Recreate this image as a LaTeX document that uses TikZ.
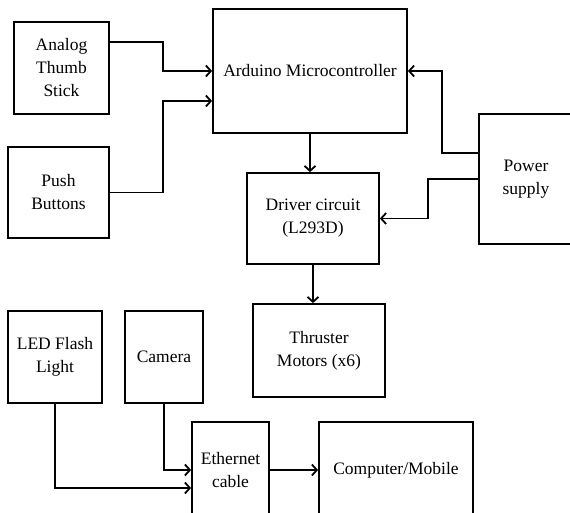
\documentclass[tikz,border=0pt]{standalone}
\usepackage{fontspec}
\setmainfont{Liberation Serif}
\usetikzlibrary{arrows.meta}

\tikzset{
	block/.style={draw, line width=1.8pt, align=center, inner sep=0pt,
		font=\fontsize{17.5}{23}\selectfont},
	wire/.style={line width=1.8pt, -{Straight Barb[length=5pt,width=11pt]}}
}

\begin{document}
\begin{tikzpicture}[x=1pt,y=-1pt]

\useasboundingbox (0,0) rectangle (570,513);

\node [block, minimum width=95pt, minimum height=92pt] (analog) at (61.5,68) {Analog\\Thumb\\Stick};
\node [block, minimum width=101pt, minimum height=91pt] (push) at (58.5,192.5) {Push\\Buttons};
\node [block, minimum width=194pt, minimum height=124pt] (arduino) at (310,71) {Arduino Microcontroller};
\node [block, minimum width=132pt, minimum height=91pt] (driver) at (313,218.5) {Driver circuit\\(L293D)};
\node [block, minimum width=94pt, minimum height=130pt] (power) at (526,179) {Power\\supply};
\node [block, minimum width=132pt, minimum height=93pt] (thruster) at (319,350.5) {Thruster\\Motors (x6)};

\node [block, minimum width=94pt, minimum height=92pt] (led) at (55,357) {LED Flash\\Light};
\node [block, minimum width=78pt, minimum height=92pt] (camera) at (164,357) {Camera};
\node [block, minimum width=77pt, minimum height=96pt] (ethernet) at (230.5,470) {Ethernet\\cable};
\node [block, minimum width=154pt, minimum height=96pt] (computer) at (396,470) {Computer/Mobile};

% inputs
\draw [wire] ([yshift=26pt]analog.east) -- ++(53pt,0) |- (arduino.west);
\draw [wire] (push.east) -- ++(53pt,0) |- ([yshift=-30pt]arduino.west);

% power lines
\draw [wire] ([yshift=26pt]power.west) -- ++(-36pt,0) |- (arduino.east);
\draw [wire] (power.west) -- ++(-50pt,0) |- (driver.east);

\draw [wire] (arduino.south) -- (arduino.south |- driver.north);
\draw [wire] (driver.south) -- (driver.south |- thruster.north);

% camera side
\draw [wire] (camera.south) |- (ethernet.west);
\draw [wire] (led.south) |- ([yshift=-18pt]ethernet.west);
\draw [wire] (ethernet.east) -- (computer.west);

\end{tikzpicture}
\end{document}
